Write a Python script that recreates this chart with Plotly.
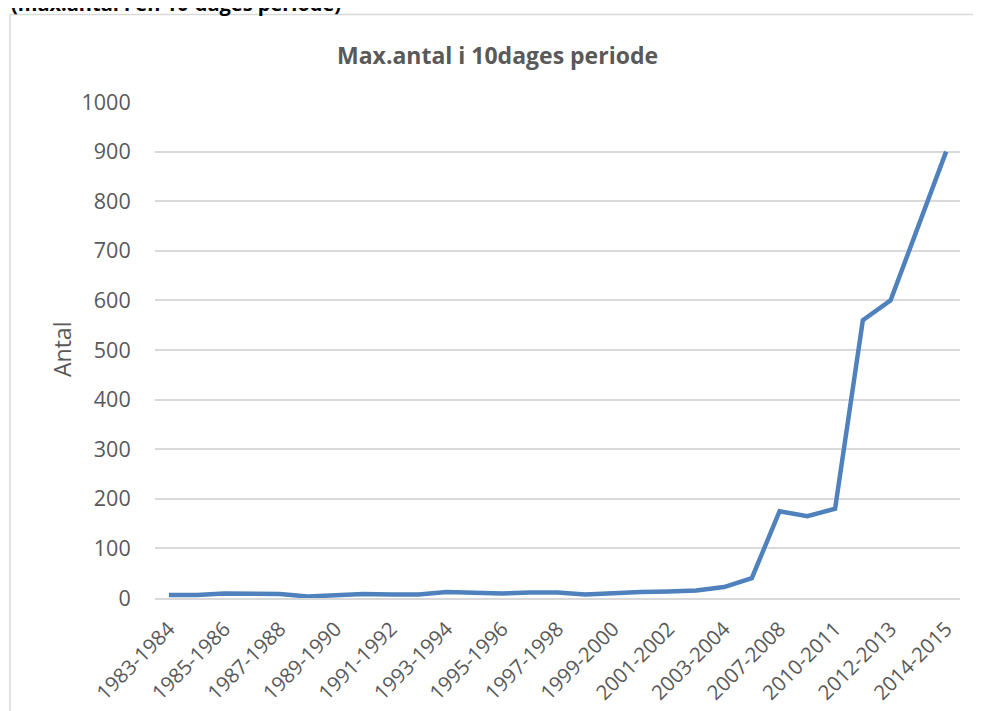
import plotly.graph_objects as go

categories = [
    "1983-1984", "1984-1985", "1985-1986", "1986-1987", "1987-1988", "1988-1989",
    "1989-1990", "1990-1991", "1991-1992", "1992-1993", "1993-1994", "1994-1995",
    "1995-1996", "1996-1997", "1997-1998", "1998-1999", "1999-2000", "2000-2001",
    "2001-2002", "2002-2003", "2003-2004", "2005-2006", "2007-2008", "2008-2009",
    "2010-2011", "2011-2012", "2012-2013", "2013-2014", "2014-2015",
]
values = [6, 6, 9, 8, 8, 3, 6, 8, 7, 7, 12, 11, 9, 11, 11, 7, 10, 12, 13, 15,
          22, 40, 175, 165, 180, 560, 600, 750, 900]
tick_labels = categories[::2]
y_ticks = [0, 100, 200, 300, 400, 500, 600, 700, 800, 900, 1000]

OFF = 8  # page body margin
W, H = 981 - OFF, 711 - OFF
# plot area in reference page pixels
PX0, PX1, PY0, PY1 = 155, 960, 101.7, 598.3
L = PX0 - OFF
R = W - (PX1 - OFF)
T = PY0 - OFF
B = H - (PY1 - OFF)
pw, ph = PX1 - PX0, PY1 - PY0

def px_x(x):
    return (x - PX0) / pw

def px_y(y):
    return (PY1 - y) / ph

fig = go.Figure()
fig.add_trace(go.Scatter(
    x=categories, y=values, mode="lines",
    line=dict(color="#4f81bd", width=4.5),
    hoverinfo="x+y", showlegend=False,
))

font = "Open Sans, Liberation Sans, sans-serif"
border = dict(color="#d9d9d9", width=1.5)
fig.update_layout(
    width=W, height=H,
    margin=dict(l=L, r=R, t=T, b=B, autoexpand=False),
    paper_bgcolor="white", plot_bgcolor="white",
    font=dict(family=font, color="#595959"),
    xaxis=dict(
        type="category", categoryorder="array", categoryarray=categories,
        range=[-0.5, len(categories) - 0.5],
        tickmode="array", tickvals=tick_labels, ticktext=tick_labels,
        tickangle=-45, tickfont=dict(size=20.5, color="#595959"),
        showgrid=False, showline=True, linecolor="#d9d9d9", linewidth=1.5,
        ticks="outside", ticklen=9, tickcolor="rgba(0,0,0,0)",
        zeroline=False, automargin=False,
    ),
    yaxis=dict(
        range=[0, 1000], tickvals=y_ticks,
        tickfont=dict(size=21.5, color="#595959"),
        showgrid=True, gridcolor="#d9d9d9", gridwidth=1.5,
        zeroline=False, ticks="outside", ticklen=19, tickcolor="rgba(0,0,0,0)",
        automargin=False,
    ),
    shapes=[
        dict(type="line", xref="paper", yref="paper",
             x0=px_x(10), x1=px_x(10), y0=px_y(730), y1=px_y(14),
             line=border, layer="below"),
        dict(type="line", xref="paper", yref="paper",
             x0=px_x(10), x1=px_x(1000), y0=px_y(14), y1=px_y(14),
             line=border, layer="below"),
    ],
    annotations=[
        dict(text="<b>Max.antal i 10dages periode</b>", xref="paper", yref="paper",
             x=px_x(497), y=px_y(55), xanchor="center", yanchor="middle",
             showarrow=False, font=dict(size=23, color="#595959", family=font)),
        dict(text="<b>(max.antal i en 10-dages periode)</b>", xref="paper", yref="paper",
             x=px_x(9), y=px_y(3), xanchor="left", yanchor="middle",
             showarrow=False, font=dict(size=20, color="#000000", family=font)),
        dict(text="Antal", xref="paper", yref="paper",
             x=px_x(62), y=px_y(350), xanchor="center", yanchor="middle",
             textangle=-90, showarrow=False,
             font=dict(size=23, color="#595959", family=font)),
    ],
)

fig.write_html("out.html")
